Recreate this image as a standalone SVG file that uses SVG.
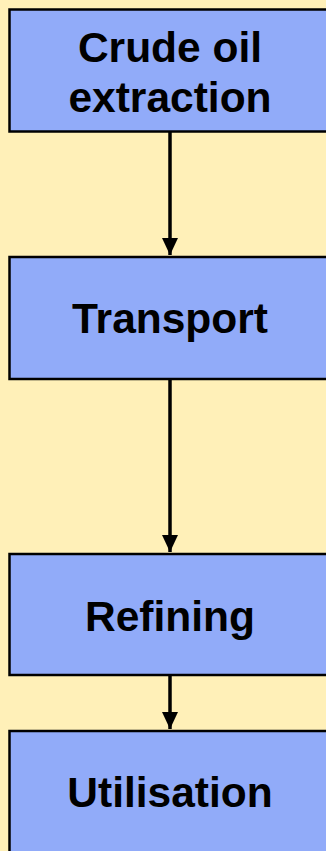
<svg xmlns="http://www.w3.org/2000/svg" width="326" height="851" viewBox="0 0 326 851">
  <style>
    .box { fill: #91abf9; stroke: #000; stroke-width: 2.5; }
    .lbl { font-family: "Liberation Sans", Arial, Helvetica, sans-serif; font-weight: bold; font-size: 42.5px; fill: #000; text-anchor: middle; }
    .edge { stroke: #000; stroke-width: 3.5; fill: none; }
  </style>
  <defs>
    <marker id="arrow" markerUnits="userSpaceOnUse" markerWidth="17" markerHeight="16" refX="17" refY="8" orient="auto">
      <path d="M0,0 L17,8 L0,16 Z" fill="#000"/>
    </marker>
  </defs>
  <rect width="326" height="851" fill="#fff0b8"/>

  <g id="connectors">
    <line class="edge" x1="170" y1="132" x2="170" y2="255" marker-end="url(#arrow)"/>
    <line class="edge" x1="170" y1="380" x2="170" y2="552" marker-end="url(#arrow)"/>
    <line class="edge" x1="170" y1="676" x2="170" y2="729" marker-end="url(#arrow)"/>
  </g>

  <g id="crude-oil-extraction">
    <rect class="box" x="9.5" y="9.5" width="325" height="122"/>
    <text class="lbl" x="170" y="62">Crude oil</text>
    <text class="lbl" x="170" y="112">extraction</text>
  </g>

  <g id="transport">
    <rect class="box" x="9.5" y="257" width="325" height="122"/>
    <text class="lbl" x="170" y="333">Transport</text>
  </g>

  <g id="refining">
    <rect class="box" x="9.5" y="554" width="325" height="121"/>
    <text class="lbl" x="170" y="631">Refining</text>
  </g>

  <g id="utilisation">
    <rect class="box" x="9.5" y="731" width="325" height="140"/>
    <text class="lbl" x="170" y="807">Utilisation</text>
  </g>
</svg>
